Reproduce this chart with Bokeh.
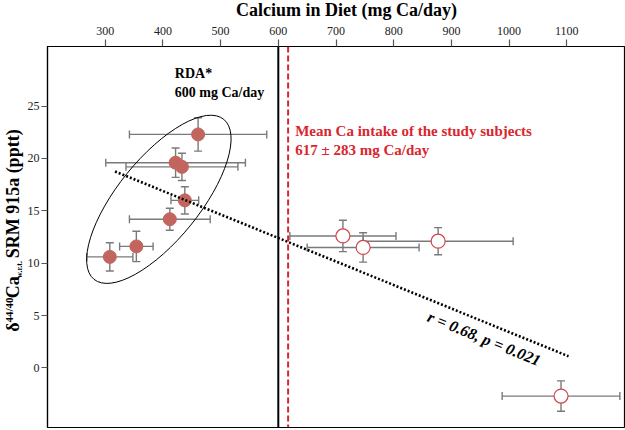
import numpy as np
from bokeh.plotting import figure
from bokeh.layouts import column, row
from bokeh.models import Range1d, Span, Whisker, TeeHead, ColumnDataSource, Label
from bokeh.embed import file_html
from bokeh.resources import INLINE

# ---------------- data ----------------
# subjects below the RDA (filled circles, inside the ellipse)
ca_low = [308, 354, 412, 438, 422, 433, 461]
d44_low = [10.6, 11.6, 14.2, 16.0, 19.6, 19.2, 22.3]
ca_err_low = [40, 29, 70, 24, 121, 97, 119]
d44_err_low = [1.35, 1.45, 1.05, 1.3, 1.4, 1.3, 1.6]

# subjects above the RDA (open circles)
ca_high = [712, 747, 877, 1090]
d44_high = [12.6, 11.5, 12.1, -2.7]
ca_err_high = [92, 97, 130, 102]
d44_err_high = [1.5, 1.4, 1.3, 1.45]

x_ticks = [300, 400, 500, 600, 700, 800, 900, 1000, 1100]
y_ticks = [0, 5, 10, 15, 20, 25]

rda_value = 600
mean_intake = 617

fit_x = [317, 1103]
fit_slope = -0.02246
fit_intercept = 25.88

group_center_x = [393]
group_center_y = [16.1]

# ---------------- styling / layout ----------------
X_LO, X_HI = 200, 1200
Y_LO, Y_HI = -5.7, 30.7
PAGE_W, PAGE_H = 625, 430
TOP_H = 20          # strip holding the x title
LEFT_W = 24         # strip holding the y title
W, H = PAGE_W - LEFT_W, PAGE_H - TOP_H
BL, BT, BR, BB = 20, 26, 1, 3
FRAME_W = W - BL - BR
FRAME_H = H - BT - BB
OX, OY = LEFT_W + BL, TOP_H + BT   # page position of the frame's top-left
BASE_SHIFT = 0.32   # Bokeh label anchor vs. glyph baseline (fraction of font size)

def X(px):  # page pixel -> data x
    return X_LO + (px - OX) * (X_HI - X_LO) / FRAME_W

def Y(py):  # page pixel -> data y
    return Y_HI - (py - OY) * (Y_HI - Y_LO) / FRAME_H

SERIF = "Liberation Serif"
FILL = "#c2655e"
OPEN_RED = "#d0454c"
TEXT_RED = "#d9262e"
GRAY = "#7a7a7a"

p = figure(width=W, height=H, x_range=Range1d(X_LO, X_HI), y_range=Range1d(Y_LO, Y_HI),
           x_axis_location="above", output_backend="svg", toolbar_location=None,
           min_border_left=BL, min_border_right=BR, min_border_top=BT, min_border_bottom=BB)
p.xgrid.visible = False
p.ygrid.visible = False
p.outline_line_color = "black"
p.outline_line_width = 1.2
p.outline_line_alpha = 1.0
p.background_fill_color = "white"
p.border_fill_color = "white"

for ax in (p.xaxis[0], p.yaxis[0]):
    ax.axis_line_color = "black"
    ax.axis_line_width = 1.2
    ax.major_tick_line_color = "#555555"
    ax.major_tick_line_width = 1.2
    ax.major_tick_in = 0
    ax.minor_tick_line_color = None
    ax.major_label_text_font = SERIF
    ax.major_label_text_font_size = "12px"
    ax.major_label_text_color = "#222222"
p.xaxis[0].ticker = x_ticks
p.yaxis[0].ticker = y_ticks
p.xaxis[0].major_tick_out = 7
p.xaxis[0].major_label_standoff = 5
p.yaxis[0].major_tick_out = 6
p.yaxis[0].major_label_standoff = 2

def lab(fig, xf, yf, text, px, py, size, color="black", style="bold", align="left",
        baseline="alphabetic", angle=0.0):
    # (px, py) is the wanted glyph baseline position on the page
    if baseline == "alphabetic":
        if angle == 0.0:
            py = py - BASE_SHIFT * size
        else:
            px = px - BASE_SHIFT * size
    fig.add_layout(Label(x=xf(px), y=yf(py), text=text, text_font=SERIF, text_font_size=f"{size}px",
                         text_font_style=style, text_color=color, text_align=align,
                         text_baseline=baseline, angle=angle))

# ---------------- texts inside the frame ----------------
lab(p, X, Y, "RDA*", 172, 77, 14)
lab(p, X, Y, "600 mg Ca/day", 172, 96, 14)
lab(p, X, Y, "Mean Ca intake of the study subjects", 293, 135, 15, color=TEXT_RED)
lab(p, X, Y, "617 \u00b1 283 mg Ca/day", 293, 154, 15, color=TEXT_RED)
lab(p, X, Y, "r = 0.68, p = 0.021", 483, 338, 16, style="bold italic", align="center",
    baseline="middle", angle=-0.385)

# ---------------- error bars ----------------
def add_errors(ca, d44, ca_err, d44_err):
    ca = np.array(ca, float); d44 = np.array(d44, float)
    ce = np.array(ca_err, float); de = np.array(d44_err, float)
    src = ColumnDataSource(dict(x=ca, y=d44, xl=ca - ce, xu=ca + ce, yl=d44 - de, yu=d44 + de))
    def head():
        return TeeHead(size=8, line_color=GRAY, line_width=1.4)
    p.add_layout(Whisker(source=src, base="y", lower="xl", upper="xu", dimension="width",
                         line_color=GRAY, line_width=1.4, lower_head=head(), upper_head=head()))
    p.add_layout(Whisker(source=src, base="x", lower="yl", upper="yu", dimension="height",
                         line_color=GRAY, line_width=1.4, lower_head=head(), upper_head=head()))
    return src

src_low = add_errors(ca_low, d44_low, ca_err_low, d44_err_low)
src_high = add_errors(ca_high, d44_high, ca_err_high, d44_err_high)

# ellipse around the low-intake group
p.ellipse(x=group_center_x, y=group_center_y, width=206, height=82, angle=0.89,
          width_units="screen", height_units="screen",
          fill_color=None, line_color="black", line_width=1)

p.scatter("x", "y", source=src_low, size=13, fill_color=FILL, line_color=FILL)
p.scatter("x", "y", source=src_high, size=14, fill_color="white", line_color=OPEN_RED, line_width=1.2)

# regression line
fx = np.array(fit_x, float)
p.line(fx, fit_intercept + fit_slope * fx, line_color="black", line_width=2.6, line_dash="2 2")

# reference lines
p.add_layout(Span(location=rda_value, dimension="height", line_color="black", line_width=2))
p.add_layout(Span(location=mean_intake, dimension="height", line_color=TEXT_RED,
                  line_width=2, line_dash="6 3"))

# ---------------- title strips (text only) ----------------
def strip(width, height, x0, y0):
    f = figure(width=width, height=height, x_range=Range1d(x0, x0 + width),
               y_range=Range1d(y0 + height, y0), x_axis_type=None, y_axis_type=None,
               output_backend="svg", toolbar_location=None,
               min_border_left=0, min_border_right=0, min_border_top=0, min_border_bottom=0)
    f.xgrid.visible = False
    f.ygrid.visible = False
    f.outline_line_color = None
    f.background_fill_color = "white"
    f.border_fill_color = "white"
    return f

ident = lambda v: v
top = strip(PAGE_W, TOP_H, 0, 0)
lab(top, ident, ident, "Calcium in Diet (mg Ca/day)", 346, 15.5, 18, align="center")

left = strip(LEFT_W, H, 0, TOP_H)
rot = np.pi / 2
lab(left, ident, ident, "\u03b4", 18.3, 327, 18, angle=rot)
lab(left, ident, ident, "44/40", 11.7, 317, 11, angle=rot)
lab(left, ident, ident, "Ca", 18.3, 291, 18, angle=rot)
lab(left, ident, ident, "w.r.t.", 22.0, 269, 8, angle=rot)
lab(left, ident, ident, "SRM 915a (pptt)", 18.3, 248, 18, angle=rot)

page = column(top, row(left, p, spacing=0), spacing=0)

open("out.html", "w").write(file_html(page, INLINE))
